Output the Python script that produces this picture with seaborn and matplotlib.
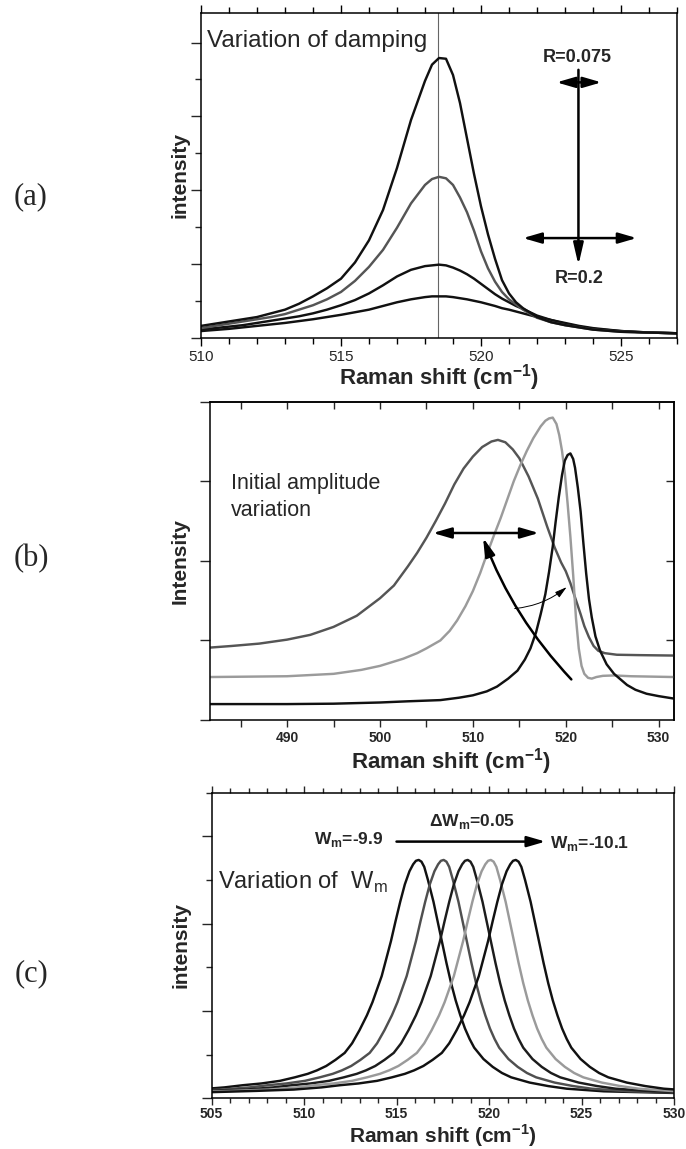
import matplotlib
matplotlib.use("Agg")
import matplotlib.pyplot as plt
from matplotlib.ticker import MultipleLocator, NullFormatter, FixedLocator
import seaborn as sns

# ---------------- data ----------------
# (a) variation of damping (R = 0.075 ... 0.2)
a_shift = [510, 510.5, 511, 511.5, 512, 512.5, 513, 513.5, 514, 514.5, 515, 515.5, 516,
           516.5, 517, 517.5, 518, 518.25, 518.5, 518.75, 519, 519.25, 519.5, 519.75,
           520, 520.25, 520.5, 520.75, 521, 521.25, 521.5, 522, 522.5, 523, 523.5, 524,
           525, 526, 527]
a_r0075 = [0.16, 0.19, 0.22, 0.25, 0.28, 0.33, 0.38, 0.46, 0.56, 0.67, 0.80, 1.02, 1.32,
           1.73, 2.30, 2.95, 3.48, 3.70, 3.79, 3.78, 3.56, 3.18, 2.70, 2.22,
           1.78, 1.40, 1.07, 0.78, 0.60, 0.48, 0.40, 0.28, 0.21, 0.17, 0.14, 0.11,
           0.08, 0.07, 0.06]
a_r2 = [0.13, 0.16, 0.19, 0.22, 0.25, 0.28, 0.32, 0.38, 0.44, 0.52, 0.62, 0.77, 0.96,
        1.19, 1.49, 1.82, 2.07, 2.15, 2.18, 2.16, 2.07, 1.90, 1.70, 1.45,
        1.17, 0.94, 0.76, 0.62, 0.52, 0.45, 0.38, 0.27, 0.21, 0.17, 0.14, 0.11,
        0.08, 0.07, 0.06]
a_r3 = [0.11, 0.13, 0.15, 0.17, 0.20, 0.23, 0.26, 0.29, 0.33, 0.38, 0.44, 0.51, 0.60,
        0.71, 0.83, 0.92, 0.97, 0.98, 0.99, 0.98, 0.95, 0.91, 0.86, 0.80,
        0.73, 0.66, 0.59, 0.53, 0.48, 0.43, 0.39, 0.30, 0.24, 0.19, 0.15, 0.12,
        0.09, 0.07, 0.06]
a_r02 = [0.09, 0.105, 0.12, 0.14, 0.16, 0.18, 0.20, 0.225, 0.25, 0.28, 0.31, 0.345, 0.38,
         0.43, 0.48, 0.52, 0.55, 0.56, 0.56, 0.56, 0.55, 0.535, 0.52, 0.50,
         0.48, 0.455, 0.43, 0.40, 0.38, 0.355, 0.33, 0.28, 0.24, 0.20, 0.16, 0.13,
         0.09, 0.07, 0.06]
a_center = 518.48

# (b) initial amplitude variation
b_dark_x = [481.7, 484, 487, 490, 492.5, 495, 497.5, 500, 501.5, 503, 504, 505, 506, 507,
            508, 509, 510, 511, 512, 512.7, 513.5, 514.3, 515, 516, 517, 518, 518.8,
            519.5, 520, 520.5, 521, 521.6, 522, 522.5, 523, 523.5, 524.2, 525.5, 528, 531.6]
b_dark_y = [0.91, 0.93, 0.96, 1.01, 1.07, 1.17, 1.31, 1.53, 1.69, 1.93, 2.10, 2.29, 2.50,
            2.72, 2.96, 3.16, 3.31, 3.43, 3.50, 3.52, 3.49, 3.40, 3.29, 3.06, 2.78, 2.43,
            2.17, 1.98, 1.87, 1.72, 1.54, 1.33, 1.18, 1.04, 0.93, 0.87, 0.84, 0.82, 0.815,
            0.81]
b_light_x = [481.7, 486, 490, 495, 498, 500, 502.5, 504, 505, 506.5, 507.5, 508.3, 509.2,
             510, 510.8, 511.5, 512.3, 513, 513.7, 514.4, 515.1, 515.8, 516.5, 517.3,
             517.8, 518.2, 518.6, 519.0, 519.3, 519.6, 519.9, 520.2, 520.5, 520.8, 521.1,
             521.4, 521.7, 522.0, 522.4, 522.8, 523.3, 524, 525.2, 527, 531.6]
b_light_y = [0.54, 0.545, 0.55, 0.58, 0.63, 0.68, 0.77, 0.84, 0.90, 1.00, 1.12, 1.25, 1.43,
             1.62, 1.85, 2.08, 2.33, 2.54, 2.77, 3.00, 3.20, 3.38, 3.54, 3.69,
             3.76, 3.79, 3.80, 3.72, 3.58, 3.38, 3.10, 2.72, 2.30, 1.82, 1.28,
             0.90, 0.68, 0.58, 0.53, 0.52, 0.54, 0.555, 0.56, 0.55, 0.54]
b_black_x = [481.7, 490, 495, 500, 503, 506.5, 508.5, 510, 511.5, 512.6, 513.8, 514.8,
             515.6, 516.2, 516.8, 517.3, 517.8, 518.2, 518.6, 518.9, 519.25, 519.6, 519.9,
             520.2, 520.5, 520.8, 521.0, 521.3, 521.6, 521.9, 522.2, 522.5, 522.8, 523.2,
             523.7, 524.4, 525.2, 526, 526.6, 527.5, 528.7, 530, 531.6]
b_black_y = [0.20, 0.20, 0.205, 0.22, 0.235, 0.25, 0.28, 0.31, 0.36, 0.42, 0.52, 0.62,
             0.76, 0.90, 1.10, 1.33, 1.58, 1.86, 2.18, 2.48, 2.80, 3.08, 3.26,
             3.33, 3.35, 3.28, 3.17, 2.92, 2.62, 2.22, 1.84, 1.52, 1.29, 1.05,
             0.87, 0.70, 0.58, 0.50, 0.44, 0.38, 0.33, 0.30, 0.27]

# (c) variation of W_m : common line profile (offset from peak, intensity) and peak positions
c_offset = [-16.5, -14, -12, -10.5, -9.5, -8.5, -7.5, -6.7, -6, -5.5, -5, -4.5, -4, -3.6,
            -3.2, -2.8, -2.5, -2.2, -2.0, -1.75, -1.5, -1.25, -1.0, -0.75, -0.5, -0.3,
            -0.15, 0, 0.15, 0.3, 0.5, 0.8, 1.1, 1.3, 1.5, 1.75, 2.0, 2.25, 2.5, 2.75, 3.0,
            3.5, 4.0, 4.5, 5.0, 6.0, 7.0, 8.0, 10.0, 12.0, 14.0]
c_profile = [0.07, 0.085, 0.10, 0.125, 0.15, 0.17, 0.20, 0.24, 0.28, 0.32, 0.37, 0.44,
             0.52, 0.63, 0.78, 0.95, 1.10, 1.28, 1.40, 1.60, 1.80, 2.03, 2.25, 2.45, 2.60,
             2.68, 2.72, 2.73, 2.71, 2.65, 2.50, 2.25, 1.95, 1.75, 1.55, 1.32, 1.12, 0.95,
             0.80, 0.68, 0.58, 0.45, 0.36, 0.29, 0.24, 0.18, 0.14, 0.11, 0.08, 0.07, 0.06]
c_centers = [516.2, 517.55, 518.85, 520.1, 521.45]
c_colors = ["#111111", "#4f4f4f", "#1c1c1c", "#9a9a9a", "#111111"]

# ---------------- style ----------------
sns.set_theme(style="white")
plt.rcParams["font.family"] = ["Liberation Sans", "DejaVu Sans"]
plt.rcParams["mathtext.fontset"] = "custom"
plt.rcParams["mathtext.rm"] = "Liberation Sans"
plt.rcParams["mathtext.bf"] = "Liberation Sans:bold"
plt.rcParams["axes.edgecolor"] = "black"
plt.rcParams["axes.linewidth"] = 1.1

W, H = 686, 1149
fig = plt.figure(figsize=(W / 100, H / 100), dpi=100)


def add_ax(l, t, r, b):
    return fig.add_axes([l / W, 1 - b / H, (r - l) / W, (b - t) / H])


axA = add_ax(201, 13, 677, 337.7)
axB = add_ax(210, 401.7, 673.5, 720)
axC = add_ax(211.5, 792.7, 674, 1098.3)

LW = 1.75
xlab = r"Raman shift (cm$^{\mathbf{-1}}$)"


def arrow(ax, tail, head, style="-|>", lw=1.8, rad=0.0, ms=10, hl=1.1, hw=0.32):
    ax.annotate("", xy=head, xytext=tail,
                arrowprops=dict(arrowstyle=f"{style},head_length={hl},head_width={hw}",
                                color="black", lw=lw, mutation_scale=ms,
                                shrinkA=0, shrinkB=0,
                                connectionstyle=f"arc3,rad={rad}"))


# ---------------- (a) ----------------
ax = axA
for yv, col in [(a_r02, "#111111"), (a_r3, "#111111"), (a_r2, "#555555"), (a_r0075, "#111111")]:
    sns.lineplot(x=a_shift, y=yv, ax=ax, color=col, linewidth=LW, sort=False, estimator=None)
ax.axvline(a_center, color="#666666", lw=0.8, zorder=1)
ax.set_xlim(510, 527)
ax.set_ylim(0, 4.4)
ax.xaxis.set_major_locator(MultipleLocator(5))
ax.xaxis.set_minor_locator(MultipleLocator(1))
ax.yaxis.set_major_locator(MultipleLocator(1))
ax.yaxis.set_minor_locator(MultipleLocator(0.5))
ax.yaxis.set_major_formatter(NullFormatter())
ax.tick_params(axis="x", which="both", direction="out", top=True, bottom=True,
               labelsize=11, color="black", width=1.0, pad=3)
ax.tick_params(axis="x", which="major", length=6)
ax.tick_params(axis="x", which="minor", length=4)
ax.tick_params(axis="y", which="both", direction="out", left=True, right=False, width=1.0)
ax.tick_params(axis="y", which="major", length=7)
ax.tick_params(axis="y", which="minor", length=4)
ax.set_xlabel(xlab, fontsize=16, fontweight="bold")
ax.set_ylabel("intensity", fontsize=15, fontweight="bold")
ax.xaxis.set_label_coords(0.5, -0.075)
ax.yaxis.set_label_coords(-0.025, 0.5)
ax.text(510.2, 3.94, "Variation of damping", fontsize=17.5, va="baseline", ha="left")
ax.text(523.45, 3.80, "R=0.075", fontsize=13, fontweight="bold", ha="center", va="center")
ax.text(523.5, 0.80, "R=0.2", fontsize=13, fontweight="bold", ha="center", va="center")
arrow(ax, (523.48, 3.63), (523.48, 0.985), style="-|>", lw=1.8, hl=1.3, hw=0.3)
arrow(ax, (522.7, 3.46), (524.3, 3.46), style="<|-|>", lw=1.8, hl=1.1, hw=0.32)
arrow(ax, (521.5, 1.35), (525.56, 1.35), style="<|-|>", lw=1.8, hl=1.1, hw=0.32)

# ---------------- (b) ----------------
ax = axB
for xv, yv, col in [(b_dark_x, b_dark_y, "#555555"), (b_light_x, b_light_y, "#9b9b9b"),
                    (b_black_x, b_black_y, "#111111")]:
    sns.lineplot(x=xv, y=yv, ax=ax, color=col, linewidth=LW, sort=False, estimator=None)
ax.set_xlim(481.7, 531.6)
ax.set_ylim(0, 4.0)
ax.xaxis.set_major_locator(MultipleLocator(10))
ax.xaxis.set_minor_locator(MultipleLocator(5))
ax.yaxis.set_major_locator(MultipleLocator(1))
ax.yaxis.set_major_formatter(NullFormatter())
ax.tick_params(axis="x", which="both", direction="out", bottom=True, top=False,
               length=5, width=1.0, labelsize=10, pad=3)
for lab in ax.get_xticklabels():
    lab.set_fontweight("bold")
ax.tick_params(axis="y", which="major", direction="out", left=True, right=False,
               length=7, width=1.0)
secx = ax.secondary_xaxis("top")
secx.xaxis.set_major_locator(MultipleLocator(5))
secx.tick_params(axis="x", direction="in", length=5, width=1.0, labeltop=False)
secx.xaxis.set_major_formatter(NullFormatter())
secy = ax.secondary_yaxis("right")
secy.yaxis.set_major_locator(FixedLocator([1, 2, 3]))
secy.tick_params(axis="y", direction="in", length=6, width=1.0, labelright=False)
secy.yaxis.set_major_formatter(NullFormatter())
ax.set_xlabel(xlab, fontsize=16, fontweight="bold")
ax.set_ylabel("Intensity", fontsize=15, fontweight="bold")
ax.xaxis.set_label_coords(0.52, -0.082)
ax.yaxis.set_label_coords(-0.045, 0.5)
ax.text(484.0, 2.90, "Initial amplitude", fontsize=15.5, va="baseline", ha="left")
ax.text(484.0, 2.56, "variation", fontsize=15.5, va="baseline", ha="left")
arrow(ax, (505.7, 2.35), (517.1, 2.35), style="<|-|>", lw=1.8, hl=1.1, hw=0.32)
arrow(ax, (520.6, 0.51), (511.1, 2.29), style="-|>", lw=1.8, rad=-0.1, hl=1.1, hw=0.3)
arrow(ax, (514.5, 1.40), (520.1, 1.67), style="-|>", lw=0.7, rad=0.15, ms=8, hl=0.9, hw=0.25)

# ---------------- (c) ----------------
ax = axC
for cen, col in zip(c_centers, c_colors):
    sns.lineplot(x=[o + cen for o in c_offset], y=c_profile, ax=ax, color=col,
                 linewidth=LW, sort=False, estimator=None)
ax.set_xlim(505, 530)
ax.set_ylim(0, 3.5)
ax.xaxis.set_major_locator(MultipleLocator(5))
ax.xaxis.set_minor_locator(MultipleLocator(1))
ax.yaxis.set_major_locator(MultipleLocator(1))
ax.yaxis.set_minor_locator(MultipleLocator(0.5))
ax.yaxis.set_major_formatter(NullFormatter())
ax.tick_params(axis="x", which="both", direction="out", top=True, bottom=True,
               width=1.0, labelsize=10, pad=1.5)
ax.tick_params(axis="x", which="major", length=5)
ax.tick_params(axis="x", which="minor", length=3.5)
for lab in ax.get_xticklabels():
    lab.set_fontweight("bold")
ax.tick_params(axis="y", which="both", direction="out", left=True, right=False, width=1.0)
ax.tick_params(axis="y", which="major", length=7)
ax.tick_params(axis="y", which="minor", length=4)
ax.set_xlabel(xlab, fontsize=15, fontweight="bold")
ax.set_ylabel("intensity", fontsize=15, fontweight="bold")
ax.xaxis.set_label_coords(0.5, -0.079)
ax.yaxis.set_label_coords(-0.045, 0.5)
ax.text(505.35, 2.40, r"Variation of  W$_{\mathrm{m}}$", fontsize=17, va="baseline", ha="left")
ax.text(512.4, 2.96, r"W$_{\mathbf{m}}$=-9.9", fontsize=12.5, fontweight="bold",
        ha="center", va="center")
ax.text(519.1, 3.17, r"ΔW$_{\mathbf{m}}$=0.05", fontsize=12.5, fontweight="bold",
        ha="center", va="center")
ax.text(523.3, 2.92, r"W$_{\mathbf{m}}$=-10.1", fontsize=12.5, fontweight="bold",
        ha="left", va="center")
arrow(ax, (515.0, 2.94), (523.05, 2.94), style="-|>", lw=1.8, hl=1.1, hw=0.32)

# panel letters
for label, yc in [("(a)", 197), ("(b)", 559), ("(c)", 974)]:
    fig.text(31 / W, 1 - yc / H, label, fontsize=22, family="Liberation Serif",
             ha="center", va="center")

fig.savefig("out.png", dpi=100)
